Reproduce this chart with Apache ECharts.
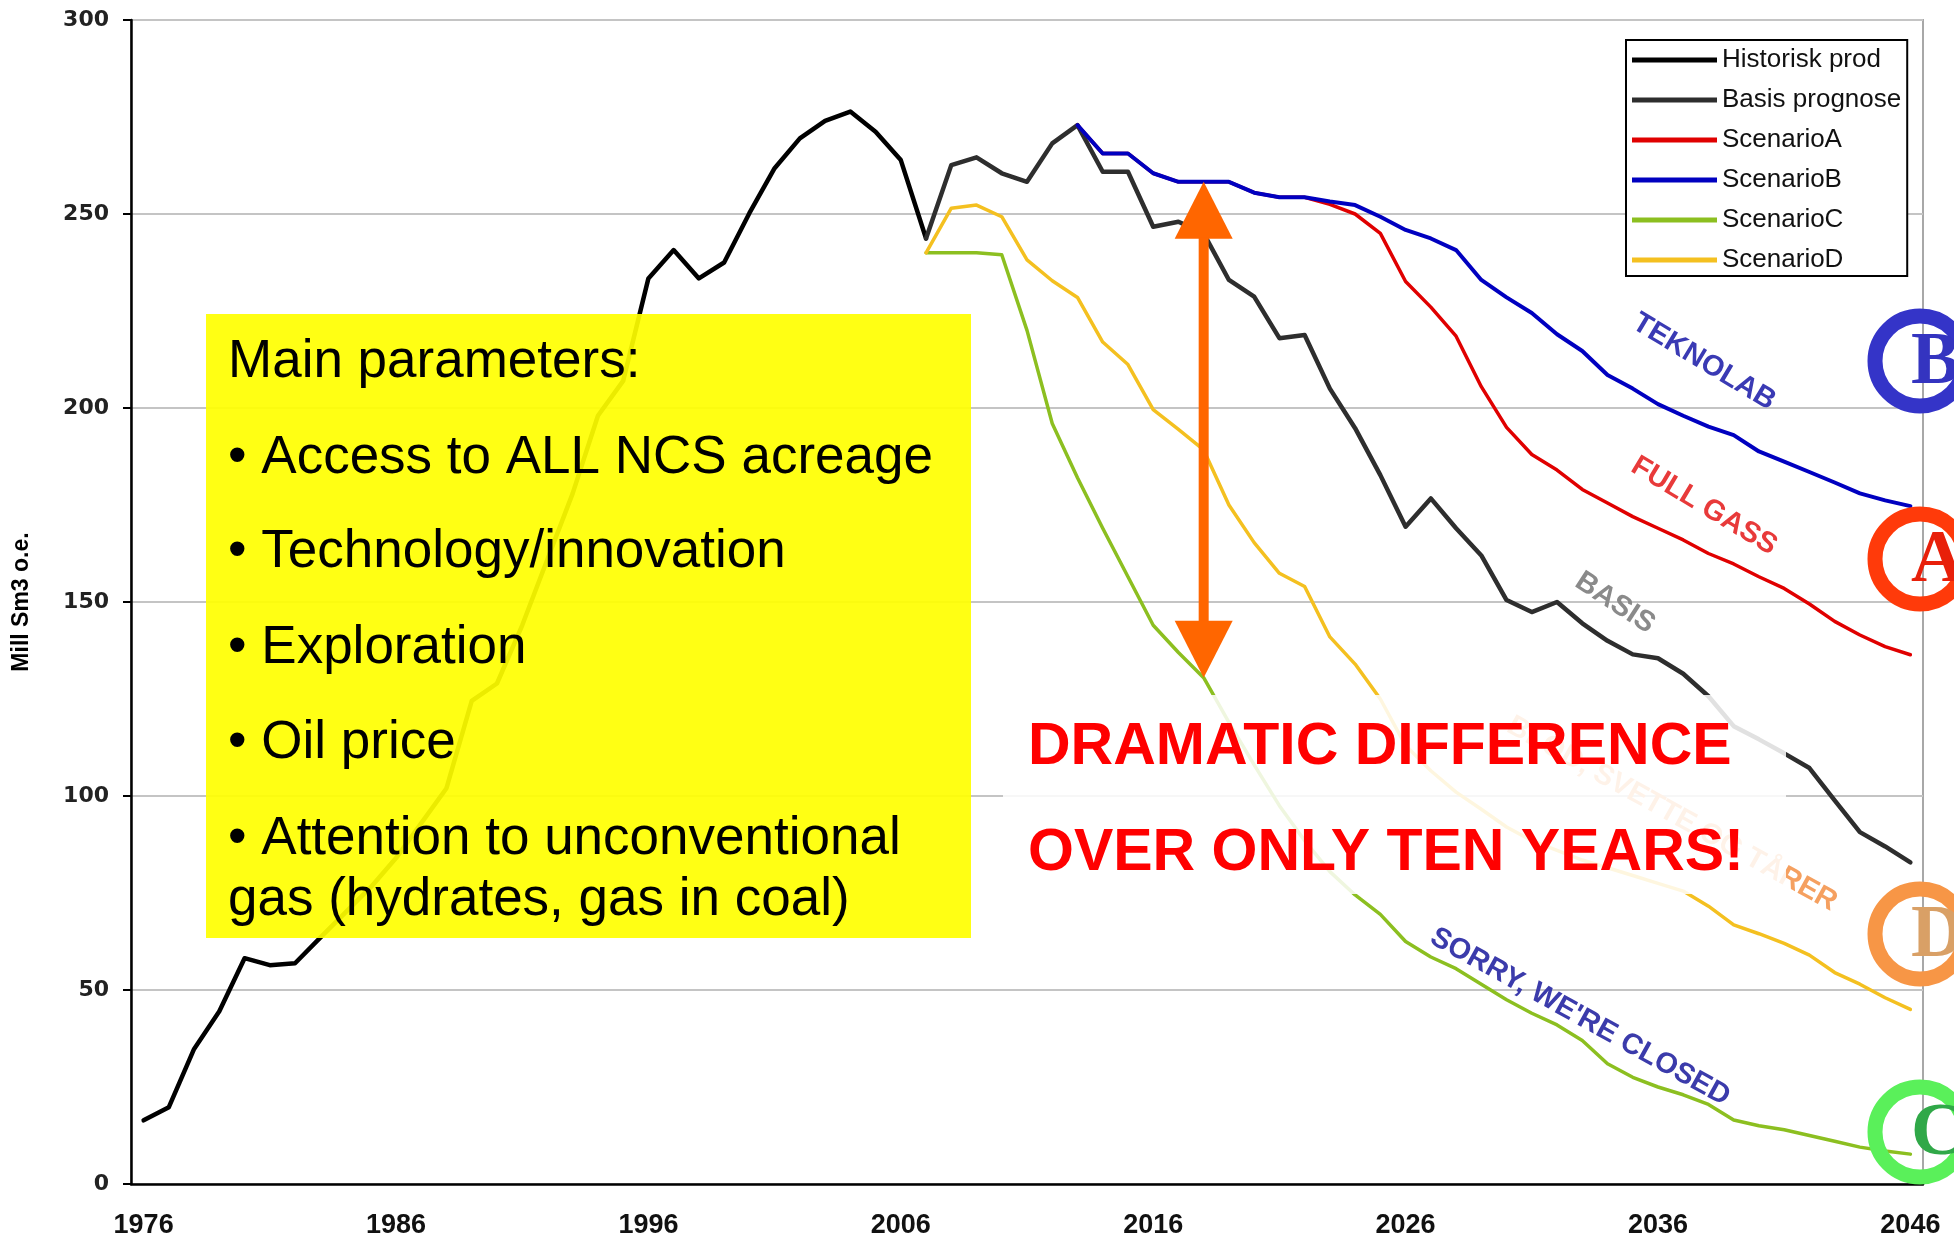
<!DOCTYPE html>
<html>
<head>
<meta charset="utf-8">
<script src="https://cdn.jsdelivr.net/npm/echarts@6/dist/echarts.min.js"></script>
<style>
  html, body { margin: 0; padding: 0; background: #fff; }
  #chart { width: 1954px; height: 1241px; }
</style>
</head>
<body>
<div id="chart"></div>
<script>
  // years on the category axis
  const years = []
  for (let y = 1976; y <= 2046; y++) years.push(String(y))

  // historic production 1976-2007
  const histProd = [16.4, 19.8, 34.8, 44.5, 58.2, 56.4, 56.9, 63.5, 70, 76.5,
    84, 93, 102, 124.5, 129, 144, 161, 178, 198, 207,
    233.4, 240.7, 233.4, 237.5, 250.2, 261.8, 269.5, 274, 276.4, 271.2,
    263.9, 243.7]
  // basis prognose 2007-2046
  const basis = [243.7, 262.6, 264.6, 260.5, 258.3, 268.2, 272.9, 260.9, 260.9, 246.7,
    248, 245, 233, 228.7, 218, 218.8, 205, 194.8, 182.7, 169.4,
    176.7, 169, 162, 150.5, 147.4, 150, 144.5, 140, 136.5, 135.5,
    131.5, 125.7, 118, 114.6, 111, 107.2, 98.9, 90.7, 87, 82.9]
  // scenario A and B 2013-2046
  const scenA = [272.9, 265.6, 265.6, 260.5, 258.3, 258.3, 258.3, 255.5, 254.3, 254.3,
    252.5, 250, 245, 232.6, 226, 218.5, 205.5, 195, 188, 184,
    179, 175.5, 172, 169, 166, 162.5, 159.8, 156.5, 153.5, 149.5,
    145, 141.5, 138.5, 136.4]
  const scenB = [272.9, 265.6, 265.6, 260.5, 258.3, 258.3, 258.3, 255.5, 254.3, 254.3,
    253.2, 252.3, 249.3, 245.9, 243.7, 240.7, 233, 228.5, 224.5, 219,
    214.7, 208.5, 205, 201, 198, 195.2, 193, 188.8, 186.2, 183.5,
    180.8, 178, 176.2, 174.7]
  // scenario C and D 2007-2046
  const scenC = [240, 240, 240, 239.5, 220, 196, 182, 169, 156.5, 144,
    137, 130.5, 119, 108, 97.5, 88.5, 80.5, 74.5, 69.5, 62.5,
    58.5, 55.5, 51.5, 47.5, 44, 41, 37, 31, 27.5, 25,
    23, 20.5, 16.5, 15, 14, 12.5, 11, 9.5, 8.5, 7.7]
  const scenD = [240, 251.5, 252.3, 249.3, 238.2, 232.8, 228.5, 217, 211.2, 199.6,
    194.5, 189.2, 175, 165.3, 157.4, 154, 141, 134, 125, 113,
    106.5, 101, 96.6, 92, 88.5, 86, 83.5, 81.5, 79.5, 77.5,
    75.5, 71.6, 66.8, 64.5, 62, 59, 54.5, 51.5, 48, 45]

  const boxLines = ['Main parameters:', '\u2022 Access to ALL NCS acreage', '\u2022 Technology/innovation',
    '\u2022 Exploration', '\u2022 Oil price', '\u2022 Attention to unconventional', 'gas (hydrates, gas in coal)']
  const boxLineY = [362, 458, 552, 648, 743, 839, 900]

  // put a series that starts in a given year onto the full year axis
  function pad(arr, startYear) {
    const out = years.map(() => null)
    arr.forEach((v, i) => { out[startYear - 1976 + i] = v })
    return out
  }

  function line(name, data, color, width) {
    return {
      name: name,
      type: 'line',
      data: data,
      symbol: 'none',
      showSymbol: false,
      lineStyle: {color: color, width: width, join: 'round', cap: 'round'},
      itemStyle: {color: color},
      emphasis: {disabled: true}
    }
  }

  const chart = echarts.init(document.getElementById('chart'))
  const font = 'Liberation Sans, Arial, sans-serif'

  chart.setOption({
    animation: false,
    backgroundColor: '#fff',
    grid: {left: 131, top: 20, right: 31, bottom: 57, show: true, borderColor: '#a8a8a8', borderWidth: 2},
    legend: {
      orient: 'vertical',
      left: 1626,
      top: 40,
      padding: [7, 6, 3, 6],
      itemGap: 14,
      itemWidth: 85,
      itemHeight: 5,
      icon: 'rect',
      borderColor: '#000',
      borderWidth: 2,
      backgroundColor: '#fff',
      selectedMode: false,
      textStyle: {fontFamily: font, fontSize: 26, lineHeight: 26, color: '#111'},
      data: ['Historisk prod', 'Basis prognose', 'ScenarioA', 'ScenarioB', 'ScenarioC', 'ScenarioD']
    },
    xAxis: {
      type: 'category',
      data: years,
      boundaryGap: true,
      axisLine: {lineStyle: {color: '#000', width: 2.5}},
      axisTick: {interval: 4, length: 10, lineStyle: {color: '#000', width: 2}},
      axisLabel: {interval: 9, fontFamily: font, fontWeight: 'bold', fontSize: 27, color: '#111', margin: 28},
      splitLine: {show: false}
    },
    yAxis: {
      type: 'value',
      min: 0,
      max: 300,
      interval: 50,
      name: 'Mill Sm3 o.e.',
      nameLocation: 'middle',
      nameGap: 98,
      nameTextStyle: {fontFamily: font, fontWeight: 'bold', fontSize: 23, color: '#000'},
      axisLine: {show: true, lineStyle: {color: '#000', width: 2.5}},
      axisTick: {show: true, length: 8, lineStyle: {color: '#000', width: 2}},
      axisLabel: {fontFamily: 'DejaVu Sans', fontWeight: 'bold', fontSize: 22, color: '#222', margin: 22},
      splitLine: {lineStyle: {color: '#c4c4c4', width: 2}}
    },
    series: [
      line('Historisk prod', pad(histProd, 1976), '#000000', 4.5),
      line('Basis prognose', pad(basis, 2007), '#2e2e2e', 4.5),
      line('ScenarioA', pad(scenA, 2013), '#e00000', 3.5),
      line('ScenarioB', pad(scenB, 2013), '#0000c0', 4),
      line('ScenarioC', pad(scenC, 2007), '#8cbf20', 3.5),
      line('ScenarioD', pad(scenD, 2007), '#f4c020', 3.5)
    ]
  })

  // arrow between scenario B and scenario C in 2018
  const pTop = chart.convertToPixel({xAxisIndex: 0, yAxisIndex: 0}, ['2018', scenB[2018 - 2013]])
  const pBot = chart.convertToPixel({xAxisIndex: 0, yAxisIndex: 0}, ['2018', scenC[2018 - 2007]])
  const ax = pTop[0]
  const headH = 57, headW = 29, orange = '#ff6600'

  const graphics = []

  // yellow note
  graphics.push({type: 'rect', z: 100, shape: {x: 206, y: 314, width: 765, height: 624},
    style: {fill: 'rgba(255,255,0,0.92)'}})
  boxLines.forEach((t, i) => {
    graphics.push({type: 'text', z: 101, x: 228, y: boxLineY[i],
      style: {text: t, fill: '#000', font: '53px ' + font, textVerticalAlign: 'middle'}})
  })

  // labels along the curves
  const curveLabels = [
    {text: 'TEKNOLAB', x: 1704, y: 362, rot: 31, color: '#3a3ab4'},
    {text: 'FULL GASS', x: 1704, y: 506, rot: 31, color: '#e83a3a'},
    {text: 'BASIS', x: 1615, y: 603, rot: 33, color: '#8a8a8a'},
    {text: 'BLOD, SVETTE OG T\u00c5RER', x: 1672, y: 814, rot: 29, color: '#f5a060'},
    {text: "SORRY, WE'RE CLOSED", x: 1580, y: 1017, rot: 29, color: '#3b3bab'}
  ]
  curveLabels.forEach(l => {
    graphics.push({type: 'text', z: 102, x: l.x, y: l.y, rotation: -l.rot * Math.PI / 180,
      style: {text: l.text, fill: l.color, font: 'bold 29px ' + font, textAlign: 'center', textVerticalAlign: 'middle'}})
  })

  // white veil behind the red message
  graphics.push({type: 'rect', z: 103, shape: {x: 1003, y: 695, width: 783, height: 199},
    style: {fill: 'rgba(255,255,255,0.86)'}})
  graphics.push({type: 'text', z: 104, x: 1028, y: 748,
    style: {text: 'DRAMATIC DIFFERENCE', fill: '#ff0000', font: 'bold 59px ' + font, textVerticalAlign: 'middle'}})
  graphics.push({type: 'text', z: 104, x: 1028, y: 854,
    style: {text: 'OVER ONLY TEN YEARS!', fill: '#ff0000', font: 'bold 59px ' + font, textVerticalAlign: 'middle'}})

  // double arrow
  graphics.push({type: 'polygon', z: 105,
    shape: {points: [[ax, pTop[1]], [ax - headW, pTop[1] + headH], [ax + headW, pTop[1] + headH]]},
    style: {fill: orange}})
  graphics.push({type: 'rect', z: 105,
    shape: {x: ax - 5, y: pTop[1] + headH - 1, width: 10, height: pBot[1] - pTop[1] - 2 * headH + 2},
    style: {fill: orange}})
  graphics.push({type: 'polygon', z: 105,
    shape: {points: [[ax, pBot[1]], [ax - headW, pBot[1] - headH], [ax + headW, pBot[1] - headH]]},
    style: {fill: orange}})

  // scenario badges at the right edge
  const badges = [
    {letter: 'B', y: 361, ring: '#3434c8', color: '#3434c0'},
    {letter: 'A', y: 559, ring: '#ff3a0a', color: '#e8200a'},
    {letter: 'D', y: 934, ring: '#f79646', color: '#d9a066'},
    {letter: 'C', y: 1132, ring: '#5af05a', color: '#30a848'}
  ]
  badges.forEach(b => {
    graphics.push({type: 'circle', z: 106, shape: {cx: 1920, cy: b.y, r: 45},
      style: {fill: 'none', stroke: b.ring, lineWidth: 15}})
    graphics.push({type: 'text', z: 107, x: 1911, y: b.y + 3,
      style: {text: b.letter, fill: b.color, font: 'bold 74px Liberation Serif, Times New Roman, serif', textVerticalAlign: 'middle'}})
  })

  chart.setOption({graphic: graphics})
</script>
</body>
</html>
